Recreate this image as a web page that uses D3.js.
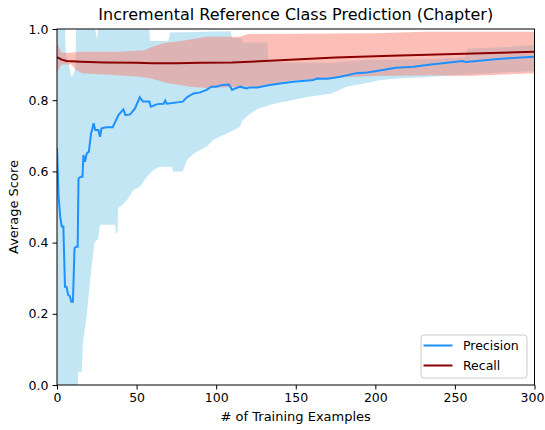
<!DOCTYPE html>
<html>
<head>
<meta charset="utf-8">
<script src="https://cdn.jsdelivr.net/npm/d3@7"></script>
<style>
  body { margin: 0; background: #fff; }
  text { font-family: "DejaVu Sans", sans-serif; fill: #000; }
</style>
</head>
<body>
<div id="chart"></div>
<script>
// Precision (mean) line
const precX = [0, 1, 2, 3, 4, 5, 6, 7, 8, 9, 10, 11, 12, 13, 13.5, 15, 16, 16.6, 17.6, 18.7, 20, 21.4, 22, 23, 24, 26, 27, 28, 31, 35, 38.6, 41.7, 43, 46, 49, 52, 54, 58, 59, 63, 67, 68, 69, 79, 81.6, 85.7, 90, 94, 97, 100, 104, 108, 110, 112, 115, 119, 121, 126, 132, 140, 148.6, 161, 163.5, 170, 178, 188, 195, 213, 224, 235, 255, 257, 277, 300];
const precY = [0.665, 0.53, 0.473, 0.445, 0.445, 0.276, 0.276, 0.253, 0.25, 0.234, 0.234, 0.384, 0.388, 0.388, 0.58, 0.585, 0.585, 0.646, 0.627, 0.651, 0.655, 0.707, 0.716, 0.735, 0.716, 0.716, 0.697, 0.721, 0.724, 0.724, 0.758, 0.774, 0.758, 0.76, 0.777, 0.808, 0.796, 0.796, 0.782, 0.789, 0.79, 0.799, 0.79, 0.796, 0.808, 0.819, 0.822, 0.829, 0.838, 0.838, 0.843, 0.844, 0.829, 0.833, 0.838, 0.833, 0.836, 0.836, 0.841, 0.847, 0.852, 0.857, 0.861, 0.86, 0.866, 0.876, 0.878, 0.891, 0.894, 0.9, 0.91, 0.907, 0.916, 0.922];

// Precision band, lower and upper edges
const precLowX = [0, 13, 13.3, 15.5, 16.4, 18.7, 20.8, 22, 23.5, 25.8, 27, 36.5, 37, 38, 38.4, 40.7, 44, 48, 52, 56.5, 60.5, 64.8, 72, 73, 79, 81.6, 86, 94, 98, 107, 115, 116, 120, 126.5, 137, 147.6, 158, 172, 182, 193, 203, 214, 235, 258, 277, 300];
const precLow = [0, 0, 0.037, 0.037, 0.126, 0.196, 0.295, 0.342, 0.4, 0.41, 0.45, 0.45, 0.427, 0.427, 0.497, 0.505, 0.52, 0.548, 0.557, 0.585, 0.604, 0.613, 0.613, 0.6, 0.6, 0.632, 0.65, 0.67, 0.688, 0.707, 0.725, 0.74, 0.758, 0.777, 0.791, 0.8, 0.81, 0.818, 0.838, 0.847, 0.857, 0.861, 0.866, 0.872, 0.877, 0.882];
const precHighX = [0, 5, 5.5, 7, 9, 10, 11.5, 12, 24, 25, 26, 58, 58.5, 70, 71, 109, 110, 116, 117, 132, 133, 150, 172, 193, 235, 256, 258, 277, 300];
const precHigh = [1, 1, 0.93, 0.91, 0.865, 0.87, 0.89, 1, 1, 0.972, 1, 1, 0.966, 0.966, 0.99, 0.994, 0.975, 0.975, 0.962, 0.962, 0.908, 0.906, 0.905, 0.913, 0.916, 0.92, 0.945, 0.948, 0.955];

// Recall (mean) line
const recX = [0, 3, 6, 15, 30, 50, 60, 75, 90, 110, 140, 175, 210, 250, 300];
const recY = [0.921, 0.914, 0.91, 0.908, 0.906, 0.905, 0.904, 0.904, 0.905, 0.906, 0.912, 0.92, 0.925, 0.93, 0.936];

// Recall band, lower and upper edges
const recLowX = [0, 3, 9, 12, 16, 30, 52, 60, 69, 84, 94, 115, 126, 148, 175, 200, 235, 258, 300];
const recLow = [0.88, 0.9, 0.9, 0.885, 0.876, 0.872, 0.866, 0.86, 0.848, 0.838, 0.834, 0.838, 0.838, 0.855, 0.864, 0.868, 0.87, 0.868, 0.876];
const recHighX = [0, 3, 9, 14, 40, 55, 60, 67, 80, 94, 115, 120, 200, 230, 300];
const recHigh = [0.96, 0.933, 0.933, 0.936, 0.936, 0.94, 0.95, 0.96, 0.968, 0.978, 0.978, 0.986, 0.988, 0.992, 0.992];

const xTicks = [0, 50, 100, 150, 200, 250, 300];
const yTicks = [0, 0.2, 0.4, 0.6, 0.8, 1.0];

const margin = { top: 29, right: 10.5, bottom: 45, left: 57 };
const W = 545, H = 430;
const width = W - margin.left - margin.right;
const height = H - margin.top - margin.bottom;

const svg = d3.select("#chart").append("svg")
    .attr("width", W)
    .attr("height", H);

const g = svg.append("g")
    .attr("transform", `translate(${margin.left},${margin.top})`);

const x = d3.scaleLinear().domain([0, 300]).range([0, width]);
const y = d3.scaleLinear().domain([0, 1]).range([height, 0]);

g.append("clipPath").attr("id", "plot")
  .append("rect").attr("width", width).attr("height", height);

const plot = g.append("g").attr("clip-path", "url(#plot)");

// build a band polygon from two edges with their own x samples
function bandPath(lx, ly, hx, hy) {
    const lower = lx.map((v, i) => [x(v), y(ly[i])]);
    const upper = hx.map((v, i) => [x(v), y(hy[i])]).reverse();
    return d3.line()(lower.concat(upper)) + "Z";
}

const line = d3.line().x(d => x(d[0])).y(d => y(d[1]));

plot.append("path")
    .attr("d", bandPath(precLowX, precLow, precHighX, precHigh))
    .attr("fill", "skyblue").attr("fill-opacity", 0.5);

plot.append("path")
    .attr("d", bandPath(recLowX, recLow, recHighX, recHigh))
    .attr("fill", "salmon").attr("fill-opacity", 0.5);

plot.append("path")
    .datum(precX.map((v, i) => [v, precY[i]]))
    .attr("d", line)
    .attr("fill", "none").attr("stroke", "#1e90ff").attr("stroke-width", 2);

plot.append("path")
    .datum(recX.map((v, i) => [v, recY[i]]))
    .attr("d", line)
    .attr("fill", "none").attr("stroke", "#8b0000").attr("stroke-width", 2);

// axes
const xAxis = g.append("g")
    .attr("transform", `translate(0,${height})`)
    .call(d3.axisBottom(x).tickValues(xTicks).tickSize(4.5).tickPadding(4).tickFormat(d3.format("d")));
const yAxis = g.append("g")
    .call(d3.axisLeft(y).tickValues(yTicks).tickSize(4.5).tickPadding(4).tickFormat(d3.format(".1f")));

[xAxis, yAxis].forEach(a => {
    a.select(".domain").remove();
    a.selectAll("text").attr("font-size", 12.5).attr("font-family", "DejaVu Sans").attr("fill", "#000");
    a.selectAll("line").attr("stroke", "#000").attr("stroke-width", 1);
});
// last x label sits on the window edge; keep it inside
xAxis.selectAll(".tick text").filter(d => d === 300).attr("dx", -2.5);

// frame
g.append("rect")
    .attr("width", width).attr("height", height)
    .attr("fill", "none").attr("stroke", "#000").attr("stroke-width", 1);

svg.append("text")
    .attr("x", margin.left + width / 2).attr("y", 20)
    .attr("text-anchor", "middle").attr("font-size", 16)
    .text("Incremental Reference Class Prediction (Chapter)");

svg.append("text")
    .attr("x", margin.left + width / 2).attr("y", 421)
    .attr("text-anchor", "middle").attr("font-size", 13)
    .text("# of Training Examples");

svg.append("text")
    .attr("transform", `translate(18,${margin.top + height / 2}) rotate(-90)`)
    .attr("text-anchor", "middle").attr("font-size", 13)
    .text("Average Score");

// legend
const legend = svg.append("g").attr("transform", "translate(421,335)");
legend.append("rect")
    .attr("width", 106).attr("height", 43).attr("rx", 3)
    .attr("fill", "#fff").attr("fill-opacity", 0.8)
    .attr("stroke", "#ccc").attr("stroke-width", 1);
const items = [["Precision", "#1e90ff"], ["Recall", "#8b0000"]];
items.forEach(([name, col], i) => {
    const yy = 10.5 + i * 20;
    legend.append("line")
        .attr("x1", 2.5).attr("x2", 31.5).attr("y1", yy).attr("y2", yy)
        .attr("stroke", col).attr("stroke-width", 2);
    legend.append("text")
        .attr("x", 42).attr("y", yy + 4.5)
        .attr("font-size", 12.5)
        .text(name);
});
</script>
</body>
</html>
